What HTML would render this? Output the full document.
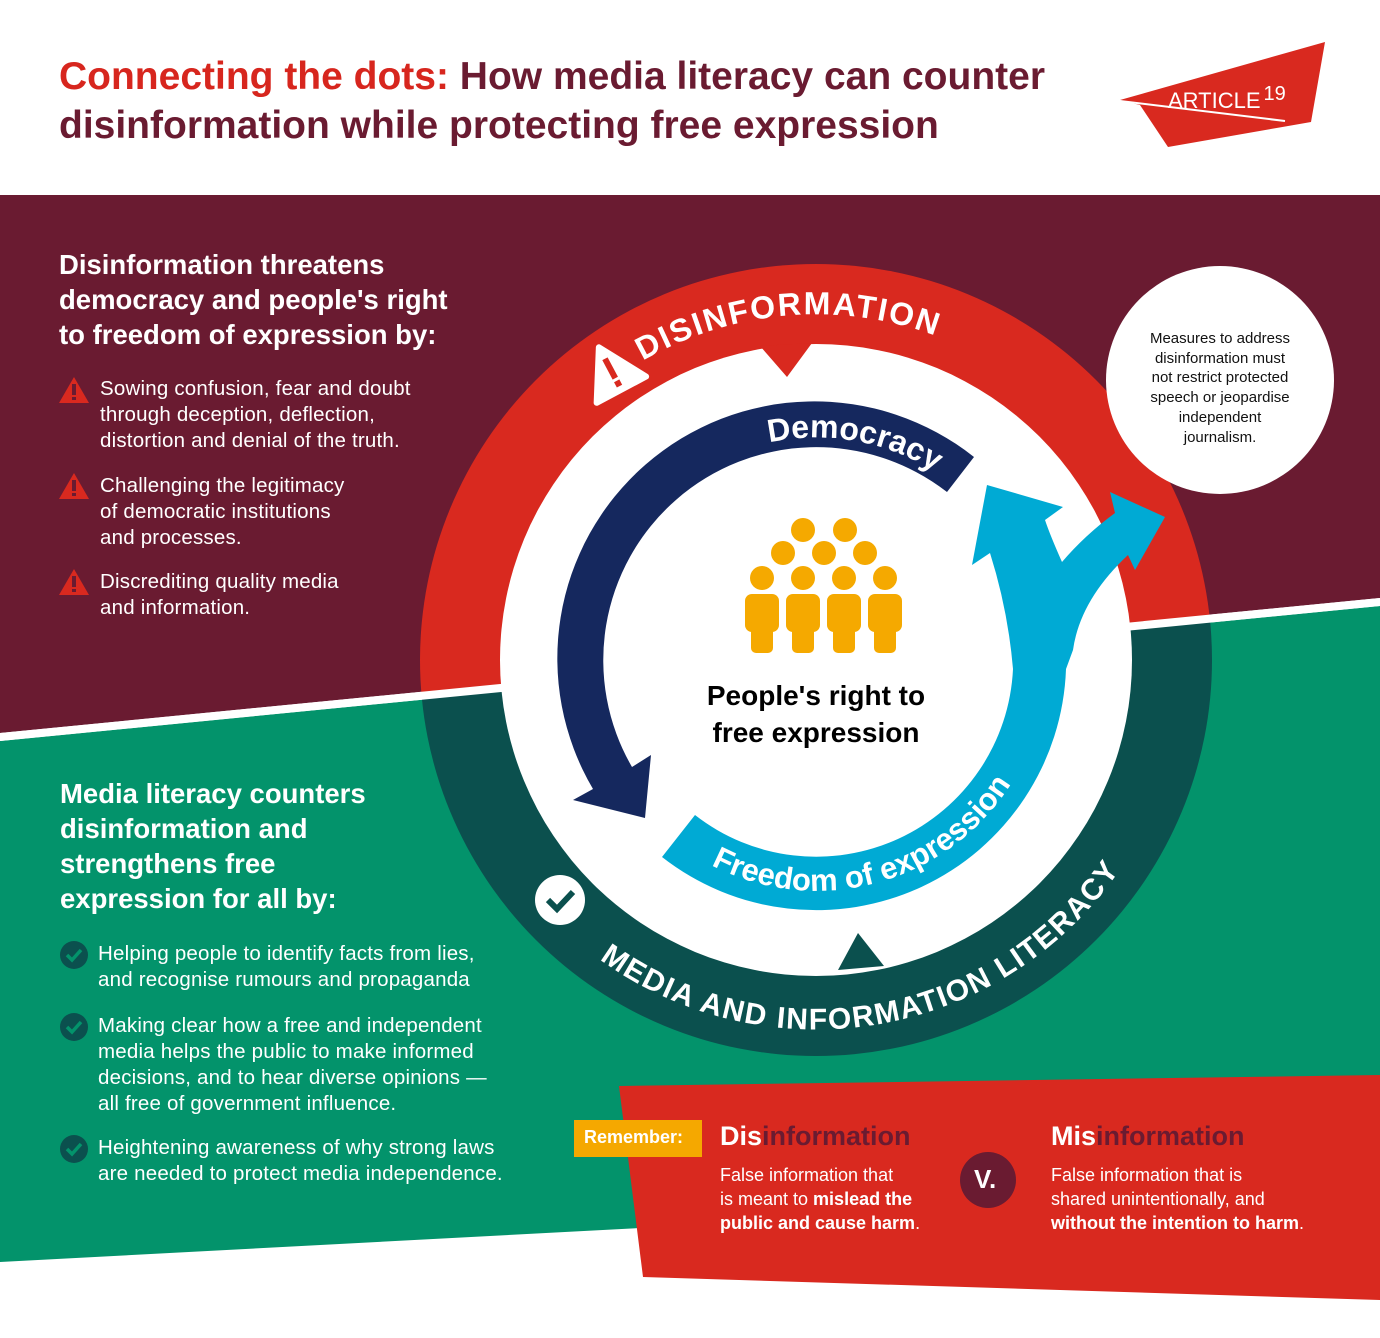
<!DOCTYPE html>
<html><head><meta charset="utf-8"><style>
body{margin:0;width:1380px;height:1338px;overflow:hidden;background:#fff;font-family:"Liberation Sans",sans-serif;position:relative}
.a{position:absolute;white-space:nowrap}
.h{color:#fff;font-weight:bold;font-size:27.5px;line-height:35px}
.b{color:#fff;font-size:20.5px;line-height:26px;letter-spacing:0.2px}
</style></head><body>
<svg width="1380" height="1338" style="position:absolute;left:0;top:0">
<defs>
<clipPath id="up"><polygon points="0,0 1380,0 1380,602 0,737"/></clipPath>
<clipPath id="dn"><polygon points="0,737 1380,602 1380,1338 0,1338"/></clipPath>
<path id="p1" d="M594,395 A346,346 0 0 1 1038,395"/>
<path id="p2" d="M469,786 A369,369 0 0 0 1163,786"/>
<path id="p3" d="M646,517 A222,222 0 0 1 1025,584"/>
<path id="p4" d="M617,775 A230,230 0 0 0 1043,620"/>
</defs>
<polygon points="0,195 1380,195 1380,598 0,733" fill="#6a1b31"/>
<polygon points="0,741 1380,606 1380,1100 640,1228 0,1262" fill="#03936b"/>
<circle cx="816" cy="660" r="396" fill="#d9291f" clip-path="url(#up)"/>
<circle cx="816" cy="660" r="396" fill="#0b504e" clip-path="url(#dn)"/>
<line x1="0" y1="737" x2="1380" y2="602" stroke="#fff" stroke-width="8"/>
<circle cx="816" cy="660" r="316" fill="#fff"/>
<polygon points="760,346 812,343 787,377" fill="#d9291f"/>
<polygon points="838,970 884,966 858,933" fill="#0b504e"/>
<text font-family="Liberation Sans" font-weight="bold" font-size="32" fill="#fff" letter-spacing="2" text-anchor="middle"><textPath href="#p1" startOffset="44%">DISINFORMATION</textPath></text>
<text font-family="Liberation Sans" font-weight="bold" font-size="30" fill="#fff" letter-spacing="1.5" text-anchor="middle"><textPath href="#p2" startOffset="57%">MEDIA AND INFORMATION LITERACY</textPath></text>
<g transform="rotate(-28 612 372)"><polygon points="612,344 640,392 584,392" fill="#fff" stroke="#fff" stroke-width="6" stroke-linejoin="round"/><rect x="609" y="357" width="6" height="22" fill="#d9291f"/><rect x="609" y="382" width="6" height="6" fill="#d9291f"/></g>
<circle cx="560" cy="900" r="25" fill="#fff"/>
<polyline points="548,900 557,909 573,892" fill="none" stroke="#0b504e" stroke-width="6"/>
<path d="M974,457 A257,257 0 0 0 593,789 L573,800 L645,818 L651,755 L632,767 A213,213 0 0 1 947,492 Z" fill="#15285e"/>
<path d="M662,857 A250,250 0 0 0 1066,669 L1073,650 Q1080,600 1128,555 L1135,570 L1165,517 L1110,492 L1115,513 Q1085,535 1062,562 Q1050,535 1045,520 L1063,507 L987,485 L972,565 L990,553 Q1008,610 1013,669 A197,197 0 0 1 695,815 Z" fill="#00aad4"/>
<text font-family="Liberation Sans" font-weight="bold" font-size="32" fill="#fff" text-anchor="middle"><textPath href="#p3" startOffset="50%">Democracy</textPath></text>
<text font-family="Liberation Sans" font-weight="bold" font-size="31" fill="#fff" text-anchor="middle"><textPath href="#p4" startOffset="47%">Freedom of expression</textPath></text>
<g fill="#f5a900">
<circle cx="803" cy="530" r="12"/><circle cx="845" cy="530" r="12"/>
<circle cx="783" cy="553" r="12"/><circle cx="824" cy="553" r="12"/><circle cx="865" cy="553" r="12"/>
<circle cx="762" cy="578" r="12"/><circle cx="803" cy="578" r="12"/><circle cx="844" cy="578" r="12"/><circle cx="885" cy="578" r="12"/>
<rect x="745" y="594" width="34" height="38" rx="7"/><rect x="751" y="620" width="22" height="33" rx="5"/>
<rect x="786" y="594" width="34" height="38" rx="7"/><rect x="792" y="620" width="22" height="33" rx="5"/>
<rect x="827" y="594" width="34" height="38" rx="7"/><rect x="833" y="620" width="22" height="33" rx="5"/>
<rect x="868" y="594" width="34" height="38" rx="7"/><rect x="874" y="620" width="22" height="33" rx="5"/>
</g>
<circle cx="1220" cy="380" r="114" fill="#fff"/>
<polygon points="1120,100 1325,42 1311,122 1168,147 1140,105" fill="#d9291f"/>
<line x1="1120" y1="101" x2="1285" y2="121" stroke="#fff" stroke-width="2"/>
<polygon points="619,1086 1380,1075 1380,1300 643,1277" fill="#d9291f"/>
<rect x="574" y="1120" width="128" height="37" fill="#f5a800"/>
<circle cx="988" cy="1180" r="28" fill="#6a1b31"/>
<g fill="#d9291f">
<polygon points="74,377 89,403 59,403"/><polygon points="74,473 89,499 59,499"/><polygon points="74,569 89,595 59,595"/>
</g>
<g fill="#6a1b31"><rect x="72" y="384" width="4" height="11"/><rect x="72" y="397" width="4" height="3"/><rect x="72" y="480" width="4" height="11"/><rect x="72" y="493" width="4" height="3"/><rect x="72" y="576" width="4" height="11"/><rect x="72" y="589" width="4" height="3"/></g>
<g fill="#0b504e"><circle cx="74" cy="955" r="14"/><circle cx="74" cy="1027" r="14"/><circle cx="74" cy="1149" r="14"/></g>
<g fill="none" stroke="#03936b" stroke-width="3.5"><polyline points="67,955 72,960 81,950"/><polyline points="67,1027 72,1032 81,1022"/><polyline points="67,1149 72,1154 81,1144"/></g>
</svg>
<div class="a" style="left:59px;top:52px;font-size:39px;font-weight:bold;line-height:49px;color:#6a1b31"><span style="color:#d7261e">Connecting the dots:</span> How media literacy can counter<br>disinformation while protecting free expression</div>
<div class="a" style="left:1168px;top:88px;color:#fff;font-size:22px">ARTICLE<span style="font-size:20px;position:relative;top:-8px;margin-left:3px">19</span></div>
<div class="a h" style="left:59px;top:247px">Disinformation threatens<br>democracy and people's right<br>to freedom of expression by:</div>
<div class="a b" style="left:100px;top:376px">Sowing confusion, fear and doubt<br>through deception, deflection,<br>distortion and denial of the truth.</div>
<div class="a b" style="left:100px;top:473px">Challenging the legitimacy<br>of democratic institutions<br>and processes.</div>
<div class="a b" style="left:100px;top:569px">Discrediting quality media<br>and information.</div>
<div class="a h" style="left:60px;top:776px">Media literacy counters<br>disinformation and<br>strengthens free<br>expression for all by:</div>
<div class="a b" style="left:98px;top:941px">Helping people to identify facts from lies,<br>and recognise rumours and propaganda</div>
<div class="a b" style="left:98px;top:1013px">Making clear how a free and independent<br>media helps the public to make informed<br>decisions, and to hear diverse opinions —<br>all free of government influence.</div>
<div class="a b" style="left:98px;top:1135px">Heightening awareness of why strong laws<br>are needed to protect media independence.</div>
<div class="a" style="left:704px;top:677px;width:224px;text-align:center;font-size:28px;font-weight:bold;line-height:37px;color:#000">People's right to<br>free expression</div>
<div class="a" style="left:1120px;top:329px;width:200px;text-align:center;font-size:15px;line-height:19.7px;color:#111">Measures to address<br>disinformation must<br>not restrict protected<br>speech or jeopardise<br>independent<br>journalism.</div>
<div class="a" style="left:584px;top:1127px;color:#fff;font-weight:bold;font-size:18px">Remember:</div>
<div class="a" style="left:720px;top:1121px;font-weight:bold;font-size:27px;color:#6a1b31"><span style="color:#fff">Dis</span>information</div>
<div class="a" style="left:1051px;top:1121px;font-weight:bold;font-size:27px;color:#6a1b31"><span style="color:#fff">Mis</span>information</div>
<div class="a" style="left:720px;top:1163px;color:#fff;font-size:18px;line-height:24px">False information that<br>is meant to <b>mislead the</b><br><b>public and cause harm</b>.</div>
<div class="a" style="left:1051px;top:1163px;color:#fff;font-size:18px;line-height:24px">False information that is<br>shared unintentionally, and<br><b>without the intention to harm</b>.</div>
<div class="a" style="left:974px;top:1164px;color:#fff;font-weight:bold;font-size:26px">V.</div>
</body></html>
